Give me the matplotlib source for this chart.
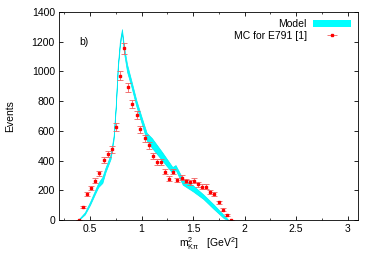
import numpy as np
import matplotlib
matplotlib.use("Agg")
import matplotlib.pyplot as plt
from matplotlib.patches import Patch

# MC points for E791
mc_x = [0.39, 0.429, 0.471, 0.51, 0.552, 0.59, 0.632, 0.671, 0.713, 0.752,
        0.79, 0.832, 0.871, 0.91, 0.952, 0.99, 1.032, 1.071, 1.11, 1.152,
        1.19, 1.229, 1.271, 1.31, 1.348, 1.39, 1.429, 1.468, 1.51, 1.548,
        1.587, 1.629, 1.668, 1.706, 1.748, 1.787, 1.826, 1.865]
mc_y = [0, 88, 173, 216, 265, 315, 404, 443, 476, 627,
        971, 1155, 894, 780, 708, 611, 551, 503, 429, 389,
        389, 326, 279, 326, 270, 285, 263, 254, 265, 240,
        225, 225, 191, 178, 119, 70, 34, 0]
mc_err = [0, 9, 13, 15, 16, 18, 20, 21, 22, 25,
          31, 34, 30, 28, 27, 25, 23, 22, 21, 20,
          20, 18, 17, 18, 16, 17, 16, 16, 16, 15,
          15, 15, 14, 13, 11, 8, 6, 0]

# model band
band_x = [0.39, 0.45, 0.5, 0.55, 0.58, 0.62, 0.65, 0.7, 0.73, 0.75, 0.77, 0.79,
          0.81, 0.83, 0.86, 0.9, 0.95, 1.0, 1.05, 1.1, 1.2, 1.3, 1.33, 1.4,
          1.5, 1.6, 1.7, 1.8, 1.84]
band_lo = [0, 38, 102, 178, 222, 250, 322, 412, 548, 754, 1023, 1175,
           1262, 1126, 997, 901, 766, 654, 537, 487, 402, 317, 340, 238,
           193, 142, 75, 12, 0]
band_hi = [5, 52, 122, 202, 250, 290, 352, 442, 572, 774, 1043, 1205,
           1285, 1166, 1047, 941, 806, 694, 587, 552, 457, 357, 370, 278,
           233, 172, 105, 32, 3]

plt.rcParams['font.family'] = ['Liberation Sans', 'DejaVu Sans']
plt.rcParams['font.size'] = 7.5
plt.rcParams['mathtext.fontset'] = 'custom'
plt.rcParams['mathtext.rm'] = 'Liberation Sans'
plt.rcParams['mathtext.it'] = 'Liberation Sans'

fig = plt.figure(figsize=(3.74, 2.62), dpi=100)
ax = fig.add_axes([0.158, 0.160, 0.799, 0.794])

ax.fill_between(band_x, band_lo, band_hi, color='#00ffff', lw=0.5,
                edgecolor='#00e8f0')
ax.errorbar(mc_x, mc_y, yerr=mc_err, fmt='s', ms=1.8, color='#ff0000',
            ecolor='#f06060', elinewidth=0.6, capsize=2, capthick=0.6)

ax.set_xlim(0.2, 3.1)
ax.set_ylim(0, 1400)
ax.set_xticks([0.5, 1, 1.5, 2, 2.5, 3])
ax.set_xticklabels(['0.5', '1', '1.5', '2', '2.5', '3'])
ax.set_xticks(np.arange(0.25, 3.1, 0.25), minor=True)
ax.set_yticks(range(0, 1401, 200))
ax.tick_params(direction='in', top=True, right=True, length=3, width=0.6,
               labelsize=7.5, pad=3)
ax.tick_params(which='minor', direction='in', top=True, right=True,
               length=1.5, width=0.5)
for s in ax.spines.values():
    s.set_linewidth(0.6)

ax.set_ylabel('Events', fontsize=7.5, labelpad=12)
ax.set_xlabel(r'm$^2_{\rm K\pi}$   [GeV$^2$]', fontsize=7.5, labelpad=1)
ax.text(0.40, 1200, 'b)', fontsize=7.5, va='center')

h_model = Patch(facecolor='#00ffff', edgecolor='none')
h_mc = ax.errorbar([], [], xerr=[], fmt='s', ms=1.8, color='#ff0000',
                   ecolor='#f06060', elinewidth=0.6, capsize=2, capthick=0.6)
leg = ax.legend([h_model, h_mc], ['Model', 'MC for E791 [1]'],
                loc='upper right', frameon=False, markerfirst=False,
                fontsize=7.5, handlelength=3.6, handletextpad=0.6,
                borderaxespad=0.3, labelspacing=0.15, handleheight=0.6)

fig.savefig('out.png', dpi=100)
